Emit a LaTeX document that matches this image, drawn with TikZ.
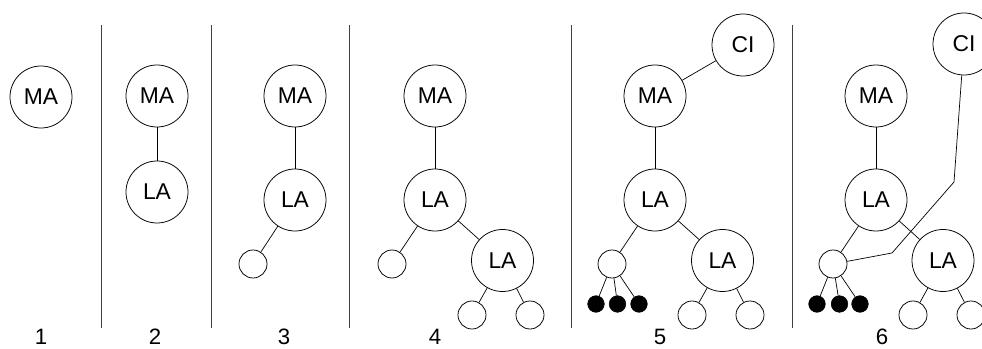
\documentclass[tikz,border=0pt]{standalone}
\usepackage{fontspec}
\setmainfont{Liberation Sans}
\begin{document}
\begin{tikzpicture}[x=0.03cm,y=-0.03cm,
  big/.style={circle,draw,line width=0.65pt,minimum size=1.86cm,inner sep=0pt,font=\fontsize{19.5}{22}\selectfont},
  small/.style={circle,draw,line width=0.65pt,minimum size=0.84cm,inner sep=0pt},
  dot/.style={circle,fill=black,draw=black,minimum size=0.5cm,inner sep=0pt},
  edge/.style={line width=0.6pt},
  sep/.style={line width=0.7pt,draw=black!75},
  num/.style={anchor=base,font=\fontsize{19}{22}\selectfont,inner sep=0pt}]
\useasboundingbox (0,0) rectangle (982,349);
% separators
\foreach \i/\x in {a/101,b/211,c/349,d/571,e/792}{
  \coordinate (t\i) at (\x,25);
  \coordinate (b\i) at (\x,328);
  \draw[sep] (t\i) -- (b\i);
}
% panel 1
\node[big] (ma1) at (41,97) {MA};
% panel 2
\node[big] (ma2) at (157,96) {MA};
\node[big] (la2) at (157,192) {LA};
\draw[edge] (ma2) -- (la2);
% panel 3
\node[big] (ma3) at (295,96) {MA};
\node[big] (la3) at (295,200) {LA};
\node[small] (s3) at (253,264) {};
\draw[edge] (ma3) -- (la3);
\draw[edge] (la3) -- (s3);
% panel 4
\node[big] (ma4) at (435,96) {MA};
\node[big] (la4) at (435,200) {LA};
\node[small] (s4) at (392,264) {};
\node[big] (lb4) at (502.5,260.5) {LA};
\node[small] (u4) at (472,315) {};
\node[small] (v4) at (530,315) {};
\draw[edge] (ma4) -- (la4);
\draw[edge] (la4) -- (s4);
\draw[edge] (la4) -- (lb4);
\draw[edge] (lb4) -- (u4);
\draw[edge] (lb4) -- (v4);
% panel 5
\node[big] (ma5) at (655,96) {MA};
\node[big] (la5) at (655,200) {LA};
\node[big] (ci5) at (743,45) {CI};
\node[small] (s5) at (612,264) {};
\node[dot] (d5a) at (596,304) {};
\node[dot] (d5b) at (617.5,304) {};
\node[dot] (d5c) at (639,304) {};
\node[big] (lb5) at (722.5,260.5) {LA};
\node[small] (u5) at (692,315) {};
\node[small] (v5) at (750,315) {};
\draw[edge] (ma5) -- (la5);
\draw[edge] (ma5) -- (ci5);
\draw[edge] (la5) -- (s5);
\draw[edge] (la5) -- (lb5);
\draw[edge] (s5) -- (d5a);
\draw[edge] (s5) -- (d5b);
\draw[edge] (s5) -- (d5c);
\draw[edge] (lb5) -- (u5);
\draw[edge] (lb5) -- (v5);
% panel 6
\node[big] (ma6) at (876,96) {MA};
\node[big] (la6) at (876,200) {LA};
\node[big] (ci6) at (964,44) {CI};
\node[small] (s6) at (833,264) {};
\node[dot] (d6a) at (817,304) {};
\node[dot] (d6b) at (839.5,304) {};
\node[dot] (d6c) at (860,304) {};
\node[big] (lb6) at (943,260.5) {LA};
\node[small] (u6) at (913,315) {};
\node[small] (v6) at (971,315) {};
\coordinate (k1) at (954,182);
\coordinate (k2) at (892,253);
\draw[edge] (ma6) -- (la6);
\draw[edge] (la6) -- (s6);
\draw[edge] (la6) -- (lb6);
\draw[edge] (s6) -- (d6a);
\draw[edge] (s6) -- (d6b);
\draw[edge] (s6) -- (d6c);
\draw[edge] (lb6) -- (u6);
\draw[edge] (lb6) -- (v6);
\draw[edge] (ci6) -- (k1) -- (k2) -- (s6);
% numbers
\node[num] (n1) at (41,345) {1};
\node[num] (n2) at (155,345) {2};
\node[num] (n3) at (284,345) {3};
\node[num] (n4) at (435,345) {4};
\node[num] (n5) at (660,345) {5};
\node[num] (n6) at (882,345) {6};
\end{tikzpicture}
\end{document}
